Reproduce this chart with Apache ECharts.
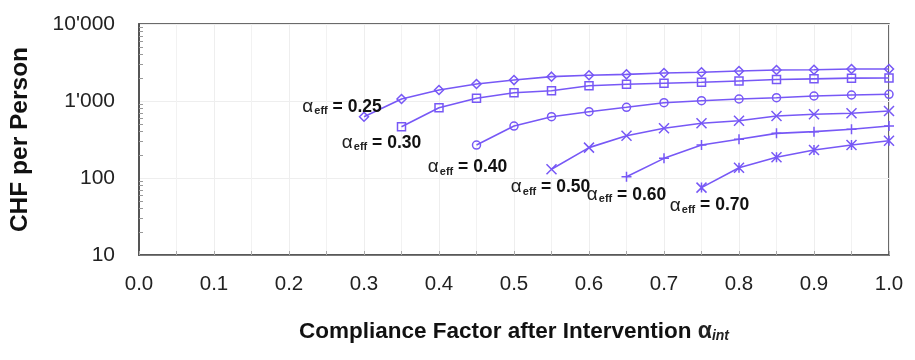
<!DOCTYPE html>
<html>
<head>
<meta charset="utf-8">
<script src="https://cdn.jsdelivr.net/npm/echarts@6/dist/echarts.min.js"></script>
<style>html,body{margin:0;padding:0;background:#fff}#c{width:915px;height:360px}</style>
</head>
<body>
<div id="c"></div>
<script>
// x positions (compliance factor after intervention)
const xValues = [0.30,0.35,0.40,0.45,0.50,0.55,0.60,0.65,0.70,0.75,0.80,0.85,0.90,0.95,1.00];
// series labels (alpha_eff)
const effLabels = ['0.25','0.30','0.40','0.50','0.60','0.70'];
// CHF per person values, each series starts at its own x
const s025 = [625,1060,1390,1660,1870,2070,2160,2220,2310,2360,2450,2530,2550,2600,2600];
const s030 = [464,818,1084,1282,1361,1581,1648,1698,1749,1820,1900,1940,1980,1990];
const s040 = [268,473,625,726,828,951,1009,1062,1104,1161,1196,1222];
const s050 = [130,248,354,442,513,555,638,672,692,741];
const s060 = [104,180,268,318,380,400,429,473];
const s070 = [75,136,186,231,268,305];
const xTickLabels = ['0.0','0.1','0.2','0.3','0.4','0.5','0.6','0.7','0.8','0.9','1.0'];
const yTickValues = [10,100,1000,10000];

const C = '#7758f6';
const seriesVals = [s025,s030,s040,s050,s060,s070];
const symbols = [
  'diamond','rect','circle',
  'path://M0,0L10,10M10,0L0,10',
  'path://M5,0L5,10M0,5L10,5',
  'path://M0,0L10,10M10,0L0,10M5,0L5,10'
];
const symSizes = [9,8,8,10,10,10];
const labelOffsets = [[-22,-10],[-20,16],[-9,22],[-1,18],[0,18],[8,18]];

const minorVals = [];
for (let d of [10,100,1000]) for (let k=2;k<=9;k++) minorVals.push(d*k);

const series = seriesVals.map((vals, si) => {
  const start = xValues.length - vals.length;
  const data = vals.map((v, i) => {
    const item = { value: [xValues[start + i], v] };
    if (i === 0) {
      item.label = {
        show: true,
        position: 'inside',
        offset: labelOffsets[si],
        formatter: '{a|α}{s|eff}{b| = ' + effLabels[si] + '}',
        rich: {
          a: { fontFamily: 'Liberation Sans', fontSize: 19, color: '#222', lineHeight: 22, verticalAlign: 'middle' },
          s: { fontFamily: 'Liberation Sans', fontSize: 11, fontWeight: 'bold', color: '#222', lineHeight: 22, padding: [9,0,0,1] },
          b: { fontFamily: 'Liberation Sans', fontSize: 17.5, fontWeight: 'bold', color: '#111', lineHeight: 22 }
        }
      };
    }
    return item;
  });
  return {
    type: 'line',
    data: data,
    symbol: symbols[si],
    symbolSize: symSizes[si],
    showAllSymbol: true,
    lineStyle: { color: C, width: 1.6 },
    itemStyle: { color: 'rgba(0,0,0,0)', borderColor: C, borderWidth: 1.5 },
    emphasis: { disabled: true },
    z: 3,
    animation: false
  };
});

const chart = echarts.init(document.getElementById('c'), null, { renderer: 'canvas' });
chart.setOption({
  animation: false,
  grid: { left: 138, right: 26, top: 24, bottom: 105, show: true, borderColor: '#3a3a3a', borderWidth: 1.5, backgroundColor: 'transparent' },
  xAxis: {
    type: 'value', min: 0, max: 1, interval: 0.1,
    axisLine: { show: true, lineStyle: { color: '#555', width: 1.5 } },
    axisTick: { show: true, inside: true, length: 4, lineStyle: { color: '#aaa' } },
    minorTick: { show: true, splitNumber: 2, length: 4, lineStyle: { color: '#aaa' } },
    splitLine: { show: true, lineStyle: { color: '#eeeeee', width: 1 } },
    minorSplitLine: { show: true, lineStyle: { color: '#f2f2f2', width: 1 } },
    axisLabel: {
      margin: 19, fontSize: 20.5, color: '#222', fontFamily: 'Liberation Sans',
      formatter: (v) => xTickLabels[Math.round(v * 10)]
    },
    name: 'Compliance Factor after Intervention {a|α}{s|int}',
    nameLocation: 'middle', nameGap: 65,
    nameTextStyle: {
      fontFamily: 'Liberation Sans', fontSize: 22.5, fontWeight: 'bold', color: '#111',
      rich: {
        a: { fontFamily: 'Liberation Sans', fontSize: 23, color: '#222' },
        s: { fontFamily: 'Liberation Sans', fontSize: 14, fontStyle: 'italic', color: '#222', padding: [9,0,0,0] }
      }
    }
  },
  yAxis: [{
    type: 'log', logBase: 10, min: 10, max: 10000,
    axisLine: { show: true, lineStyle: { color: '#555', width: 2 } },
    axisTick: { show: false },
    splitLine: { show: true, lineStyle: { color: '#eeeeee', width: 1 } },
    axisLabel: {
      margin: 24, fontSize: 21, color: '#222', fontFamily: 'Liberation Sans',
      customValues: yTickValues,
      formatter: (v) => String(Math.round(v)).replace(/\B(?=(\d{3})+(?!\d))/g, "'")
    },
    name: 'CHF per Person', nameLocation: 'middle', nameGap: 106, nameRotate: 90,
    nameTextStyle: { fontFamily: 'Liberation Sans', fontSize: 24.5, fontWeight: 'bold', color: '#111' }
  }, {
    type: 'log', logBase: 10, min: 10, max: 10000, position: 'left',
    axisLine: { show: false },
    axisLabel: { show: false },
    splitLine: { show: false },
    axisTick: { show: true, inside: true, length: 4, customValues: minorVals, lineStyle: { color: '#999' } }
  }],
  series: series
});
</script>
</body>
</html>
